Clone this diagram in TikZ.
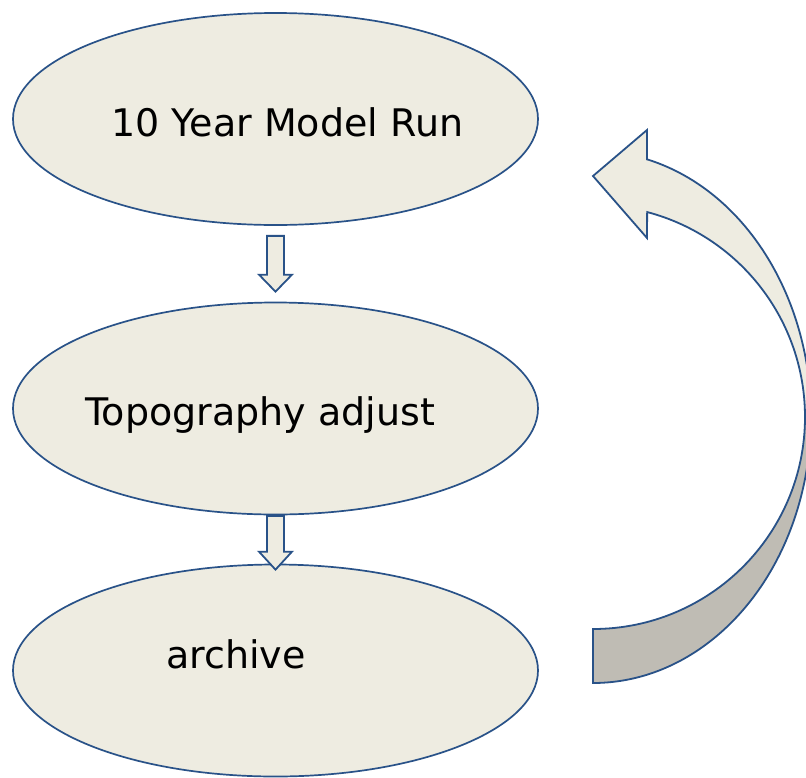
\documentclass[tikz,border=0pt]{standalone}
\usepackage{fontspec}
\setmainfont{DejaVu Sans}
\usetikzlibrary{shapes.geometric,calc}
\definecolor{edge}{RGB}{41,82,136}
\definecolor{paper}{RGB}{238,236,225}
\definecolor{backface}{RGB}{191,188,180}
\begin{document}
\begin{tikzpicture}[x=1pt,y=-1pt,
  stage/.style={ellipse,draw=edge,fill=paper,line width=1.7pt,
    minimum width=525pt,minimum height=212pt,inner sep=0pt},
  caption/.style={anchor=base west,inner sep=0pt,
    font=\fontsize{38}{46}\selectfont},
  flow/.style={draw=edge,fill=paper,line width=1.8pt,line join=miter},
  outline/.style={draw=edge,line width=1.8pt,line join=miter}]
\useasboundingbox (0,0) rectangle (806,777);

% the three stages
\node[stage] (e1) at (275.5,119) {};
\node[stage] (e2) at (275.5,408.5) {};
\node[stage] (e3) at (275.5,670.5) {};

\node[caption] (t1) at (111,136) {10 Year Model Run};
\node[caption] (t2) at (85,425) {Topography adjust};
\node[caption] (t3) at (166,668) {archive};

% block arrows between the stages
\path (e1.south) ++(0,10) coordinate (a1top);
\path (e2.north) ++(0,-10) coordinate (a1tip);
\draw[flow] ($(a1top)+(-8.5,0)$) -- ($(a1top)+(8.5,0)$) -- ($(a1tip)+(8.5,-17)$)
  -- ($(a1tip)+(16.5,-17)$) -- (a1tip) -- ($(a1tip)+(-16.5,-17)$)
  -- ($(a1tip)+(-8.5,-17)$) -- cycle;

\path (e2.south) ++(0,0.5) coordinate (a2top);
\path (e3.north) ++(0,6) coordinate (a2tip);
\draw[flow] ($(a2top)+(-8.5,0)$) -- ($(a2top)+(8.5,0)$) -- ($(a2tip)+(8.5,-18)$)
  -- ($(a2tip)+(16.5,-18)$) -- (a2tip) -- ($(a2tip)+(-16.5,-18)$)
  -- ($(a2tip)+(-8.5,-18)$) -- cycle;

% curved return arrow: light front face on top, darker back face below
\coordinate (cc) at (593,417);
\fill[paper] ($(cc)+(-75.66:218 and 266)$)
  arc[start angle=-75.66,end angle=0,x radius=218,y radius=266]
  -- ($(cc)+(0:212)$) arc[start angle=0,end angle=-75.2,radius=212]
  -- (647,238) -- (593,176) -- (647,130) -- cycle;
\fill[backface] ($(cc)+(0:218 and 266)$)
  arc[start angle=0,end angle=90,x radius=218,y radius=266]
  -- ($(cc)+(90:212)$) arc[start angle=90,end angle=0,radius=212] -- cycle;
\path[outline] ($(cc)+(-75.66:218 and 266)$)
  arc[start angle=-75.66,end angle=90,x radius=218,y radius=266]
  -- ($(cc)+(90:212)$) arc[start angle=90,end angle=-75.2,radius=212]
  -- (647,238) -- (593,176) -- (647,130) -- cycle;
\end{tikzpicture}
\end{document}
